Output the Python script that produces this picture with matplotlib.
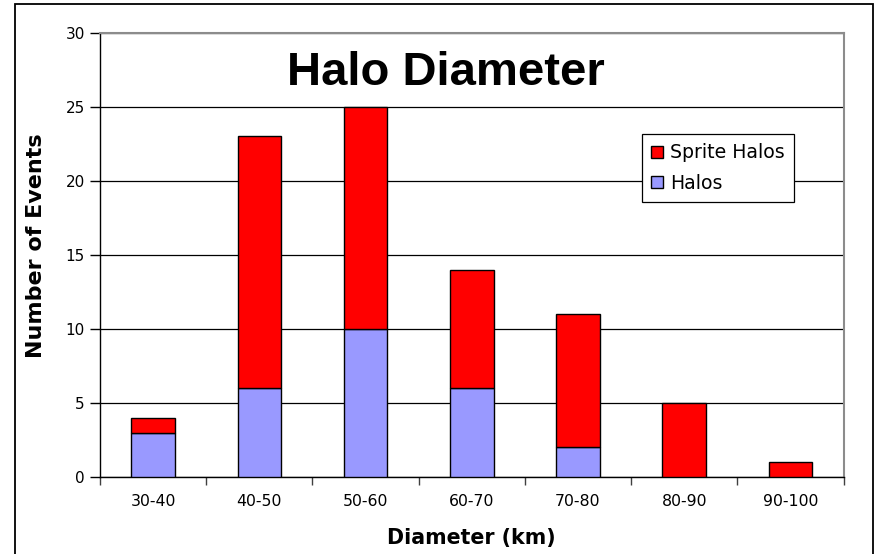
import numpy as np
import matplotlib.pyplot as plt
from matplotlib.patches import Rectangle

plt.rcParams['font.family'] = ['DejaVu Sans']

bins = ['30-40', '40-50', '50-60', '60-70', '70-80', '80-90', '90-100']
halos = [3, 6, 10, 6, 2, 0, 0]
sprite_halos = [1, 17, 15, 8, 9, 5, 1]

fig = plt.figure(figsize=(8.76, 5.54), dpi=100)
ax = fig.add_axes([100 / 876, 77 / 554, 743.5 / 876, 444.3 / 554])

# outer border round the whole chart
fig.patches.append(Rectangle((15 / 876, -0.05), 858 / 876, 1.05 - 4 / 554,
                             transform=fig.transFigure, fill=False,
                             edgecolor='black', linewidth=1.3, clip_on=False))

x = np.arange(len(bins))
width = 0.41
ax.bar(x, halos, width, color='#9999ff', edgecolor='black', linewidth=1.0,
       label='Halos', zorder=3)
ax.bar(x, sprite_halos, width, bottom=halos, color='#ff0000',
       edgecolor='black', linewidth=1.0, label='Sprite Halos', zorder=3)

ax.set_xlim(-0.5, len(bins) - 0.5)
ax.set_ylim(0, 30)
ax.set_yticks(range(0, 31, 5))
ax.yaxis.grid(True, color='black', linewidth=0.9)
ax.set_axisbelow(True)

ax.set_xticks(x)
ax.set_xticklabels(bins, fontsize=11.3)
ax.tick_params(axis='x', length=0, pad=12)
ax.set_xticks(np.arange(-0.5, len(bins)), minor=True)
ax.tick_params(axis='x', which='minor', length=6, width=1, color='#404040')
ax.tick_params(axis='y', labelsize=11, length=7, width=1, pad=4)

for side in ['top', 'right']:
    ax.spines[side].set_color('#8c8c8c')
    ax.spines[side].set_linewidth(1.5)
for side in ['left', 'bottom']:
    ax.spines[side].set_color('black')
    ax.spines[side].set_linewidth(1.0)

ax.set_xlabel('Diameter (km)', fontsize=14.8, fontweight='bold', labelpad=14)
ax.set_ylabel('Number of Events', fontsize=16, fontweight='bold')
ax.yaxis.set_label_coords(-0.073, 0.52)

ax.text(0.465, 0.91, 'Halo Diameter', transform=ax.transAxes, ha='center',
        va='center', fontsize=34, fontweight='bold', family='Liberation Sans')

handles, labels = ax.get_legend_handles_labels()
leg = ax.legend(handles[::-1], labels[::-1], loc='upper left',
                bbox_to_anchor=(0.729, 0.772), fontsize=13.6, frameon=True,
                fancybox=False, edgecolor='black', framealpha=1,
                handlelength=0.6, handleheight=0.6, handletextpad=0.4,
                borderpad=0.5, labelspacing=0.6, borderaxespad=0)
leg.get_frame().set_linewidth(0.9)

fig.savefig('out.png', dpi=100)
